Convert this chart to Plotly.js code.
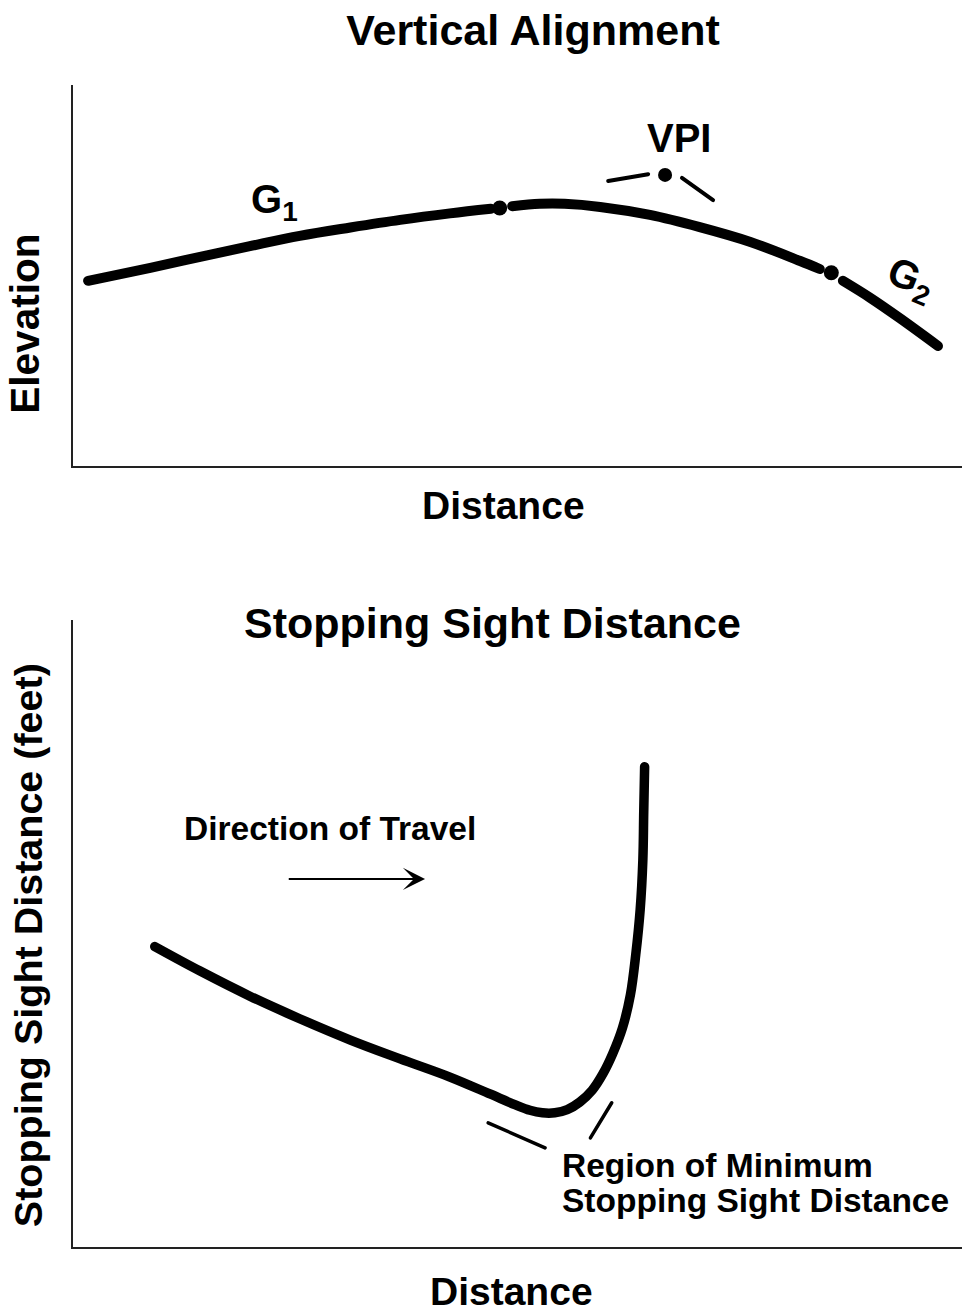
<!DOCTYPE html>
<html>
<head>
<meta charset="utf-8">
<script src="https://cdn.plot.ly/plotly-3.0.1.min.js"></script>
<style>
  html, body { margin: 0; padding: 0; background: #fff; }
  #chart { width: 962px; height: 1314px; }
  .js-line { stroke-linecap: round; }
</style>
</head>
<body>
<div id="chart"></div>
<script>
// ---------- Top panel: Vertical Alignment (Distance 0-100, Elevation 0-100) ----------
const g1Dist = [1.7, 8.7, 14.3, 19.9, 25.5, 31.2, 36.8, 42.4, 47.0];
const g1Elev = [48.6, 52.0, 54.9, 57.7, 60.4, 62.6, 64.6, 66.3, 67.5];
const curveDist = [49.4, 52.5, 55.3, 59.3, 64.9, 70.5, 76.2, 81.8, 84.0];
const curveElev = [68.2, 68.8, 68.8, 68.0, 65.9, 62.7, 58.8, 53.8, 51.7];
const g2Dist = [86.6, 89.7, 93.0, 97.3];
const g2Elev = [48.6, 44.1, 38.8, 31.5];
const tangentDist = [48.0, 85.3];
const tangentElev = [67.7, 50.7];
const vpiDist = [66.6];
const vpiElev = [76.4];
const vpiLeaderLDist = [60.2, 64.7];
const vpiLeaderLElev = [74.8, 76.6];
const vpiLeaderRDist = [68.5, 72.0];
const vpiLeaderRElev = [75.6, 69.8];

// ---------- Bottom panel: Stopping Sight Distance ----------
const ssdDist = [9.2, 14.3, 19.9, 25.5, 31.2, 36.8, 42.4, 46.9, 49.7, 51.4, 52.8, 54.2, 55.6, 57.0, 58.4, 59.6, 60.7, 61.8, 62.7, 63.3, 63.8, 64.1, 64.2, 64.3];
const ssdFeet = [47.9, 44.0, 40.0, 36.4, 33.0, 30.0, 27.1, 24.4, 22.7, 21.8, 21.4, 21.4, 21.9, 23.1, 25.0, 27.6, 30.8, 34.9, 40.2, 46.6, 53.8, 61.7, 69.4, 76.6];
const regionLeaderLDist = [46.7, 53.1];
const regionLeaderLFeet = [19.8, 15.8];
const regionLeaderRDist = [58.2, 60.6];
const regionLeaderRFeet = [17.4, 23.0];
const arrowTail = [24.1, 58.7];
const arrowHead = [39.6, 58.7];

// ---------- Labels ----------
const titleTop = 'Vertical Alignment';
const titleBottom = 'Stopping Sight Distance';
const xLabel = 'Distance';
const yLabelTop = 'Elevation';
const yLabelBottom = 'Stopping Sight Distance (feet)';
const labelG1 = 'G<sub>1</sub>';
const labelG2 = 'G<sub>2</sub>';
const labelVPI = 'VPI';
const labelTravel = 'Direction of Travel';
const labelRegion1 = 'Region of Minimum';
const labelRegion2 = 'Stopping Sight Distance';

const FONT = 'Liberation Sans, Arial, Helvetica, sans-serif';
const BLACK = '#000000';

function lineTrace(x, y, w, xa, ya, shape, smooth) {
  return {
    x: x, y: y, xaxis: xa, yaxis: ya, type: 'scatter', mode: 'lines',
    line: {color: BLACK, width: w, shape: shape || 'linear', smoothing: smooth || 1},
    hoverinfo: 'skip', showlegend: false
  };
}
function dotTrace(x, y, s, xa, ya) {
  return {
    x: x, y: y, xaxis: xa, yaxis: ya, type: 'scatter', mode: 'markers',
    marker: {color: BLACK, size: s, line: {width: 0}},
    hoverinfo: 'skip', showlegend: false
  };
}

const data = [
  lineTrace(g1Dist, g1Elev, 10, 'x', 'y', 'spline', 1),
  lineTrace(curveDist, curveElev, 10, 'x', 'y', 'spline', 1),
  lineTrace(g2Dist, g2Elev, 10, 'x', 'y', 'spline', 1),
  dotTrace(tangentDist, tangentElev, 15, 'x', 'y'),
  dotTrace(vpiDist, vpiElev, 14, 'x', 'y'),
  lineTrace(vpiLeaderLDist, vpiLeaderLElev, 4, 'x', 'y'),
  lineTrace(vpiLeaderRDist, vpiLeaderRElev, 4, 'x', 'y'),
  lineTrace(ssdDist, ssdFeet, 9.5, 'x2', 'y2', 'spline', 1),
  lineTrace(regionLeaderLDist, regionLeaderLFeet, 3.5, 'x2', 'y2'),
  lineTrace(regionLeaderRDist, regionLeaderRFeet, 3.5, 'x2', 'y2')
];

const axisCommon = {
  range: [0, 100], showgrid: false, zeroline: false, showticklabels: false,
  ticks: '', showline: true, linecolor: '#222222', linewidth: 2, fixedrange: true
};

function txt(text, size, extra) {
  return Object.assign({
    text: text, showarrow: false,
    font: {family: FONT, size: size, color: BLACK, weight: 'bold'}
  }, extra);
}

const annotations = [
  txt(titleBottom, 43, {xref: 'paper', yref: 'paper', x: 0.4724, y: 0.5262, xanchor: 'center', yanchor: 'middle'}),
  txt(xLabel, 39, {xref: 'paper', yref: 'paper', x: 0.4837, y: 0.6154, xanchor: 'center', yanchor: 'middle'}),
  txt(xLabel, 39, {xref: 'paper', yref: 'paper', x: 0.4938, y: 0.0168, xanchor: 'center', yanchor: 'middle'}),
  txt(yLabelTop, 40.5, {xref: 'paper', yref: 'paper', x: -0.0535, y: 0.754, xanchor: 'center', yanchor: 'middle', textangle: -90}),
  txt(yLabelBottom, 39.5, {xref: 'paper', yref: 'paper', x: -0.0505, y: 0.2808, xanchor: 'center', yanchor: 'middle', textangle: -90}),
  txt(labelVPI, 40, {xref: 'x', yref: 'y', x: 68.2, y: 86.1, xanchor: 'center', yanchor: 'middle'}),
  txt(labelG1, 40, {xref: 'x', yref: 'y', x: 19.8, y: 69.3, xanchor: 'left', yanchor: 'middle'}),
  txt(labelG2, 40, {xref: 'x', yref: 'y', x: 94.2, y: 48.7, xanchor: 'center', yanchor: 'middle', textangle: 22}),
  txt(labelTravel, 33.5, {xref: 'x2', yref: 'y2', x: 28.9, y: 66.7, xanchor: 'center', yanchor: 'middle'}),
  txt(labelRegion1, 33.5, {xref: 'x2', yref: 'y2', x: 54.8, y: 13.0, xanchor: 'left', yanchor: 'middle'}),
  txt(labelRegion2, 33.5, {xref: 'x2', yref: 'y2', x: 54.8, y: 7.4, xanchor: 'left', yanchor: 'middle'}),
  {
    text: '', xref: 'x2', yref: 'y2', axref: 'x2', ayref: 'y2',
    x: arrowHead[0], y: arrowHead[1], ax: arrowTail[0], ay: arrowTail[1],
    showarrow: true, arrowhead: 3, arrowsize: 1.85, arrowwidth: 2, arrowcolor: BLACK,
    standoff: 0, startstandoff: 0
  }
];

const layout = {
  width: 962, height: 1314,
  margin: {l: 73, r: 0, t: 0, b: 0, pad: 0},
  paper_bgcolor: '#ffffff', plot_bgcolor: '#ffffff',
  showlegend: false,
  title: {
    text: titleTop, xref: 'container', yref: 'container', x: 0.554, y: 0.9775,
    xanchor: 'center', yanchor: 'middle',
    font: {family: FONT, size: 43, color: BLACK, weight: 'bold'}
  },
  xaxis: Object.assign({}, axisCommon, {domain: [0, 1], anchor: 'y'}),
  yaxis: Object.assign({}, axisCommon, {domain: [0.6454, 0.9353], anchor: 'x'}),
  xaxis2: Object.assign({}, axisCommon, {domain: [0, 1], anchor: 'y2'}),
  yaxis2: Object.assign({}, axisCommon, {domain: [0.0510, 0.5282], anchor: 'x2'}),
  annotations: annotations
};

Plotly.newPlot('chart', data, layout, {staticPlot: true, displayModeBar: false});
</script>
</body>
</html>
